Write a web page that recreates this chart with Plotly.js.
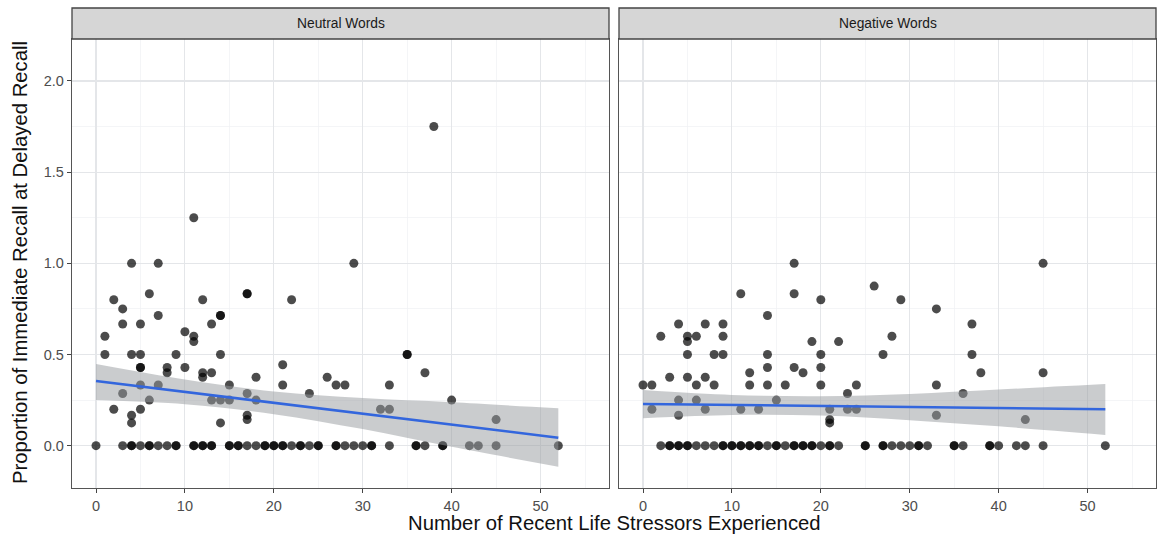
<!DOCTYPE html>
<html>
<head>
<meta charset="utf-8">
<script src="https://cdn.plot.ly/plotly-3.0.1.min.js"></script>
<style>html,body{margin:0;padding:0;background:#fff;}#chart{width:1158px;height:540px;}</style>
</head>
<body>
<div id="chart"></div>
<script>
// ---------- data ----------
const panelTitles = ["Neutral Words", "Negative Words"];
const xTitle = "Number of Recent Life Stressors Experienced";
const yTitle = "Proportion of Immediate Recall at Delayed Recall";

// Neutral words: stressors (x) and recall proportion (y)
const neutralX = [
  0, 3, 4, 4, 5, 6, 6, 7, 8, 9, 9, 11, 11, 12, 12, 13, 13, 15, 15, 16, 16, 17, 18, 19, 19, 20, 20, 21, 21, 22, 23, 23, 24, 25, 25, 27, 27, 28, 29, 30, 31, 31, 33, 36, 36, 37, 39, 39, 42, 43, 45, 52,
  1, 1, 2, 2, 3, 3, 3, 4, 4, 4, 4, 5, 5, 5, 5, 5, 5, 6, 6, 7, 7, 7, 8, 8, 9, 10, 10, 11, 11, 11, 12, 12, 12, 13, 13, 13, 14, 14, 14, 14, 14, 15, 15, 17, 17, 17, 17, 17, 18, 18, 21, 21, 22, 24, 26, 27, 28, 29, 32, 33, 33, 35, 35, 37, 38, 40, 45
];
const neutralY = [
  0, 0, 0, 0, 0, 0, 0, 0, 0, 0, 0, 0, 0, 0, 0, 0, 0, 0, 0, 0, 0, 0, 0, 0, 0, 0, 0, 0, 0, 0, 0, 0, 0, 0, 0, 0, 0, 0, 0, 0, 0, 0, 0, 0, 0, 0, 0, 0, 0, 0, 0, 0,
  0.6, 0.5, 0.8, 0.2, 0.75, 0.667, 0.286, 1.0, 0.5, 0.167, 0.125, 0.667, 0.5, 0.429, 0.429, 0.333, 0.2, 0.833, 0.25, 1.0, 0.714, 0.333, 0.429, 0.4, 0.5, 0.625, 0.429, 1.25, 0.6, 0.571, 0.8, 0.4, 0.375, 0.667, 0.4, 0.25, 0.714, 0.714, 0.5, 0.25, 0.125, 0.333, 0.25, 0.833, 0.833, 0.286, 0.167, 0.143, 0.375, 0.25, 0.444, 0.333, 0.8, 0.286, 0.375, 0.333, 0.333, 1.0, 0.2, 0.333, 0.2, 0.5, 0.5, 0.4, 1.75, 0.25, 0.143
];

// Negative words
const negativeX = [
  2, 3, 3, 4, 4, 5, 5, 6, 7, 8, 9, 9, 10, 10, 11, 11, 12, 12, 13, 13, 14, 15, 15, 16, 17, 17, 18, 18, 19, 19, 20, 21, 21, 22, 25, 25, 27, 27, 28, 29, 30, 31, 31, 32, 35, 35, 36, 39, 39, 40, 42, 43, 45, 52,
  0, 1, 1, 2, 3, 4, 4, 4, 5, 5, 5, 5, 6, 6, 6, 7, 7, 7, 8, 8, 9, 9, 9, 11, 11, 12, 12, 13, 14, 14, 14, 14, 15, 16, 17, 17, 17, 18, 19, 20, 20, 20, 20, 21, 21, 21, 22, 23, 23, 24, 24, 26, 27, 28, 29, 33, 33, 33, 36, 37, 37, 38, 43, 45, 45
];
const negativeY = [
  0, 0, 0, 0, 0, 0, 0, 0, 0, 0, 0, 0, 0, 0, 0, 0, 0, 0, 0, 0, 0, 0, 0, 0, 0, 0, 0, 0, 0, 0, 0, 0, 0, 0, 0, 0, 0, 0, 0, 0, 0, 0, 0, 0, 0, 0, 0, 0, 0, 0, 0, 0, 0, 0,
  0.333, 0.333, 0.2, 0.6, 0.375, 0.667, 0.25, 0.167, 0.6, 0.571, 0.5, 0.375, 0.6, 0.333, 0.25, 0.667, 0.375, 0.2, 0.5, 0.333, 0.667, 0.6, 0.5, 0.833, 0.2, 0.4, 0.333, 0.2, 0.714, 0.5, 0.429, 0.333, 0.25, 0.333, 1.0, 0.833, 0.429, 0.4, 0.571, 0.8, 0.5, 0.429, 0.333, 0.2, 0.143, 0.125, 0.571, 0.286, 0.2, 0.333, 0.2, 0.875, 0.5, 0.6, 0.8, 0.75, 0.333, 0.167, 0.286, 0.667, 0.5, 0.4, 0.143, 1.0, 0.4
];

// Linear fit with 95% band
const fitX = [0, 10, 20, 30, 40, 52];
const neutralFit = [0.355, 0.295, 0.235, 0.176, 0.116, 0.044];
const neutralLo  = [0.250, 0.227, 0.173, 0.091, -0.006, -0.115];
const neutralHi  = [0.448, 0.363, 0.297, 0.261, 0.238, 0.205];
const negativeFit = [0.229, 0.223, 0.218, 0.212, 0.207, 0.200];
const negativeLo  = [0.150, 0.168, 0.165, 0.140, 0.106, 0.059];
const negativeHi  = [0.305, 0.278, 0.271, 0.284, 0.308, 0.338];

const xTicks = [0, 10, 20, 30, 40, 50];
const yTicks = [0, 0.5, 1.0, 1.5, 2.0];

// ---------- build ----------
const W = 1158, H = 540;
const FONT = "Liberation Sans, Arial, Helvetica, sans-serif";
const pointColor = "rgba(0,0,0,0.7)";
const bandColor = "rgba(150,153,158,0.5)";
const lineColor = "#3366dd";

function panel(xs, ys, lo, hi, fit, xa, ya) {
  return [
    {x: xs, y: ys, xaxis: xa, yaxis: ya, type: "scatter", mode: "markers",
     marker: {size: 9, color: pointColor, line: {width: 0}}, hoverinfo: "skip"},
    {x: fitX, y: lo, xaxis: xa, yaxis: ya, type: "scatter", mode: "lines",
     line: {width: 0, shape: "spline", color: "rgba(0,0,0,0)"}, hoverinfo: "skip"},
    {x: fitX, y: hi, xaxis: xa, yaxis: ya, type: "scatter", mode: "lines", fill: "tonexty",
     fillcolor: bandColor, line: {width: 0, shape: "spline", color: "rgba(0,0,0,0)"}, hoverinfo: "skip"},
    {x: fitX, y: fit, xaxis: xa, yaxis: ya, type: "scatter", mode: "lines",
     line: {color: lineColor, width: 2.6}, hoverinfo: "skip"}
  ];
}

const traces = panel(neutralX, neutralY, neutralLo, neutralHi, neutralFit, "x", "y")
  .concat(panel(negativeX, negativeY, negativeLo, negativeHi, negativeFit, "x2", "y2"));

const px = v => v / W;
const py = v => 1 - v / H;
const d1 = [px(72), px(609)], d2 = [px(619), px(1156)];
const yd = [py(488), py(39)];

const TICKFONT = {family: FONT, size: 14.5, color: "#4d4d4d"};

const axisX = dom => ({
  domain: dom, range: [-2.7, 57.7], tickvals: xTicks, ticktext: xTicks.map(String),
  showgrid: true, gridcolor: "#e4e6e9", gridwidth: 1.1,
  minor: {tick0: 5, dtick: 10, showgrid: true, gridcolor: "#f0f1f3", gridwidth: 0.7},
  zeroline: false, showline: true, mirror: true, linecolor: "#555", linewidth: 1.3,
  ticks: "outside", ticklen: 4, tickcolor: "#444", tickwidth: 1,
  tickfont: TICKFONT
});
const axisY = (anchor, labels) => ({
  domain: yd, range: [-0.232, 2.23], anchor: anchor, tickvals: yTicks,
  ticktext: yTicks.map(v => v.toFixed(1)), showticklabels: labels,
  showgrid: true, gridcolor: "#e4e6e9", gridwidth: 1.1,
  minor: {tick0: 0.25, dtick: 0.5, showgrid: true, gridcolor: "#f0f1f3", gridwidth: 0.7},
  zeroline: false, showline: true, mirror: true, linecolor: "#555", linewidth: 1.3,
  ticks: labels ? "outside" : "", ticklen: 4, tickcolor: "#444", tickwidth: 1,
  tickfont: TICKFONT
});

const strip = dom => ({type: "rect", xref: "paper", yref: "paper",
  x0: dom[0], x1: dom[1], y0: py(39), y1: py(8),
  fillcolor: "#d6d6d6", line: {color: "#444", width: 1.3}});

const layout = {
  width: W, height: H, margin: {l: 0, r: 0, t: 0, b: 0},
  paper_bgcolor: "#fff", plot_bgcolor: "#fff", showlegend: false,
  font: {family: FONT},
  xaxis: Object.assign(axisX(d1), {anchor: "y"}),
  yaxis: axisY("x", true),
  xaxis2: Object.assign(axisX(d2), {anchor: "y2"}),
  yaxis2: axisY("x2", false),
  shapes: [strip(d1), strip(d2)],
  annotations: [
    {text: panelTitles[0], xref: "paper", yref: "paper", x: (d1[0] + d1[1]) / 2, y: py(23.5),
     showarrow: false, xanchor: "center", yanchor: "middle", font: {size: 13.8, color: "#1a1a1a", family: FONT}},
    {text: panelTitles[1], xref: "paper", yref: "paper", x: (d2[0] + d2[1]) / 2, y: py(23.5),
     showarrow: false, xanchor: "center", yanchor: "middle", font: {size: 13.8, color: "#1a1a1a", family: FONT}},
    {text: xTitle, xref: "paper", yref: "paper", x: px(614), y: py(523),
     showarrow: false, xanchor: "center", yanchor: "middle", font: {size: 20.3, color: "#111", family: FONT}},
    {text: yTitle, xref: "paper", yref: "paper", x: px(20), y: py(263),
     showarrow: false, xanchor: "center", yanchor: "middle", textangle: -90,
     font: {size: 20.3, color: "#111", family: FONT}}
  ]
};

Plotly.newPlot("chart", traces, layout, {displayModeBar: false, staticPlot: true});
</script>
</body>
</html>
